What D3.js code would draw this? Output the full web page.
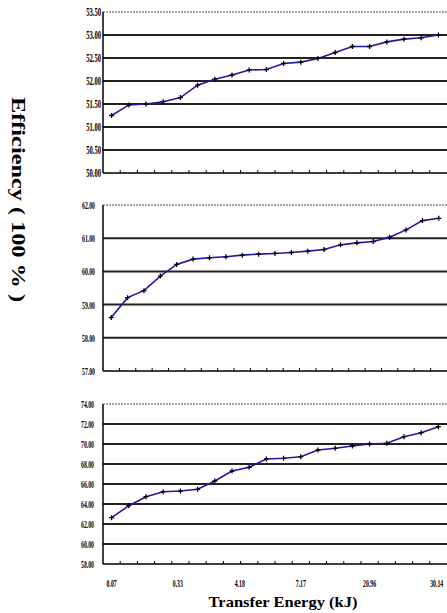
<!DOCTYPE html>
<html>
<head>
<meta charset="utf-8">
<script src="https://cdn.jsdelivr.net/npm/d3@7"></script>
<style>
  body { margin: 0; background: #fff; }
  svg { display: block; }
  .tick-label { font-family: "Liberation Serif", serif; font-weight: bold; fill: #000; }
  .title { font-family: "Liberation Serif", serif; font-weight: bold; fill: #000; }
</style>
</head>
<body>
<div id="chart"></div>
<script>
// Efficiency values (top, middle, bottom)
const topValues = [51.25, 51.48, 51.50, 51.55, 51.64, 51.91, 52.04, 52.13, 52.24, 52.25,
                   52.38, 52.41, 52.49, 52.62, 52.75, 52.75, 52.85, 52.91, 52.94, 53.00];
const midValues = [58.61, 59.21, 59.42, 59.86, 60.21, 60.37, 60.41, 60.44, 60.49, 60.52,
                   60.54, 60.57, 60.61, 60.66, 60.80, 60.86, 60.90, 61.03, 61.25, 61.53, 61.60];
const botValues = [62.63, 63.83, 64.73, 65.23, 65.30, 65.47, 66.30, 67.30, 67.67, 68.50,
                   68.57, 68.73, 69.40, 69.57, 69.80, 70.00, 70.07, 70.73, 71.13, 71.73];

const topTicks = [50.0, 50.5, 51.0, 51.5, 52.0, 52.5, 53.0, 53.5];
const midTicks = [57, 58, 59, 60, 61, 62];
const botTicks = [58, 60, 62, 64, 66, 68, 70, 72, 74];

// x labels sit under the bottom panel at these category positions
const xTickLabels = ["0.07", "0.33", "4.18", "7.17", "20.96", "30.14"];
const xTickIndex = [0, 3.85, 7.45, 11, 15, 18.9];

const W = 447, H = 613;
const left = 103, right = 447;

const panels = [
    { values: topValues, ticks: topTicks, top: 12, bottom: 173, size: 12, gap: 2 },
    { values: midValues, ticks: midTicks, top: 205, bottom: 371, size: 10.5, gap: 8 },
    { values: botValues, ticks: botTicks, top: 404, bottom: 564, size: 10.5, gap: 9 }
];

const svg = d3.select("#chart").append("svg")
    .attr("width", W)
    .attr("height", H);

panels.forEach((p, pi) => {
    const n = p.values.length;
    const x = d3.scaleBand().domain(d3.range(n)).range([left, right]).padding(0);
    const y = d3.scaleLinear()
        .domain([d3.min(p.ticks), d3.max(p.ticks)])
        .range([p.bottom, p.top]);

    const g = svg.append("g");

    // gridlines (top one is a light dotted border)
    g.selectAll(".grid")
        .data(p.ticks.slice(1))
        .join("line")
        .attr("x1", left)
        .attr("x2", right)
        .attr("y1", d => y(d))
        .attr("y2", d => y(d))
        .attr("stroke", (d, i, arr) => i === arr.length - 1 ? "#888" : "#222")
        .attr("stroke-width", (d, i, arr) => i === arr.length - 1 ? 1.5 : 2)
        .attr("stroke-dasharray", (d, i, arr) => i === arr.length - 1 ? "2,1" : null);

    // axes lines
    g.append("line")
        .attr("x1", left).attr("x2", left)
        .attr("y1", p.top).attr("y2", p.bottom)
        .attr("stroke", "#000").attr("stroke-width", 1.5);
    g.append("line")
        .attr("x1", left).attr("x2", right)
        .attr("y1", p.bottom).attr("y2", p.bottom)
        .attr("stroke", "#000").attr("stroke-width", 1.5);

    // small ticks at category boundaries, pointing up
    g.selectAll(".xtick")
        .data(d3.range(1, n))
        .join("line")
        .attr("x1", d => x(d))
        .attr("x2", d => x(d))
        .attr("y1", p.bottom)
        .attr("y2", p.bottom - 3)
        .attr("stroke", "#000")
        .attr("stroke-width", 1);

    // y tick labels, condensed
    g.selectAll(".ylab")
        .data(p.ticks)
        .join("text")
        .attr("class", "tick-label")
        .attr("text-anchor", "end")
        .attr("transform", d => `translate(${left - p.gap},${y(d) + 4}) scale(0.55,1)`)
        .style("font-size", p.size + "px")
        .text(d => d.toFixed(2));

    // the series line
    const line = d3.line()
        .x((d, i) => x(i) + x.bandwidth() / 2)
        .y(d => y(d));

    g.append("path")
        .datum(p.values)
        .attr("fill", "none")
        .attr("stroke", "#1a1aa8")
        .attr("stroke-width", 1.6)
        .attr("d", line);

    // plus markers
    g.selectAll(".mark")
        .data(p.values)
        .join("path")
        .attr("transform", (d, i) => `translate(${x(i) + x.bandwidth() / 2},${y(d)})`)
        .attr("d", "M-2.5,0H2.5M0,-2.5V2.5")
        .attr("stroke", "#000")
        .attr("stroke-width", 1.3);

    // x labels on the last panel only
    if (pi === panels.length - 1) {
        const xi = d3.scaleLinear()
            .domain([0, n - 1])
            .range([x(0) + x.bandwidth() / 2, x(n - 1) + x.bandwidth() / 2]);
        g.selectAll(".xlab")
            .data(xTickLabels)
            .join("text")
            .attr("class", "tick-label")
            .attr("text-anchor", "middle")
            .attr("transform", (d, i) => `translate(${xi(xTickIndex[i])},${p.bottom + 23}) scale(0.55,1)`)
            .style("font-size", "10.5px")
            .text(d => d);
    }
});

// axis titles
svg.append("text")
    .attr("class", "title")
    .attr("transform", "translate(12,97) rotate(90)")
    .attr("text-anchor", "start")
    .attr("textLength", 205)
    .attr("lengthAdjust", "spacingAndGlyphs")
    .style("font-size", "19px")
    .text("Efficiency ( 100 % )");

svg.append("text")
    .attr("class", "title")
    .attr("x", 283)
    .attr("y", 607)
    .attr("text-anchor", "middle")
    .attr("textLength", 149)
    .attr("lengthAdjust", "spacingAndGlyphs")
    .style("font-size", "15.5px")
    .text("Transfer Energy (kJ)");
</script>
</body>
</html>
